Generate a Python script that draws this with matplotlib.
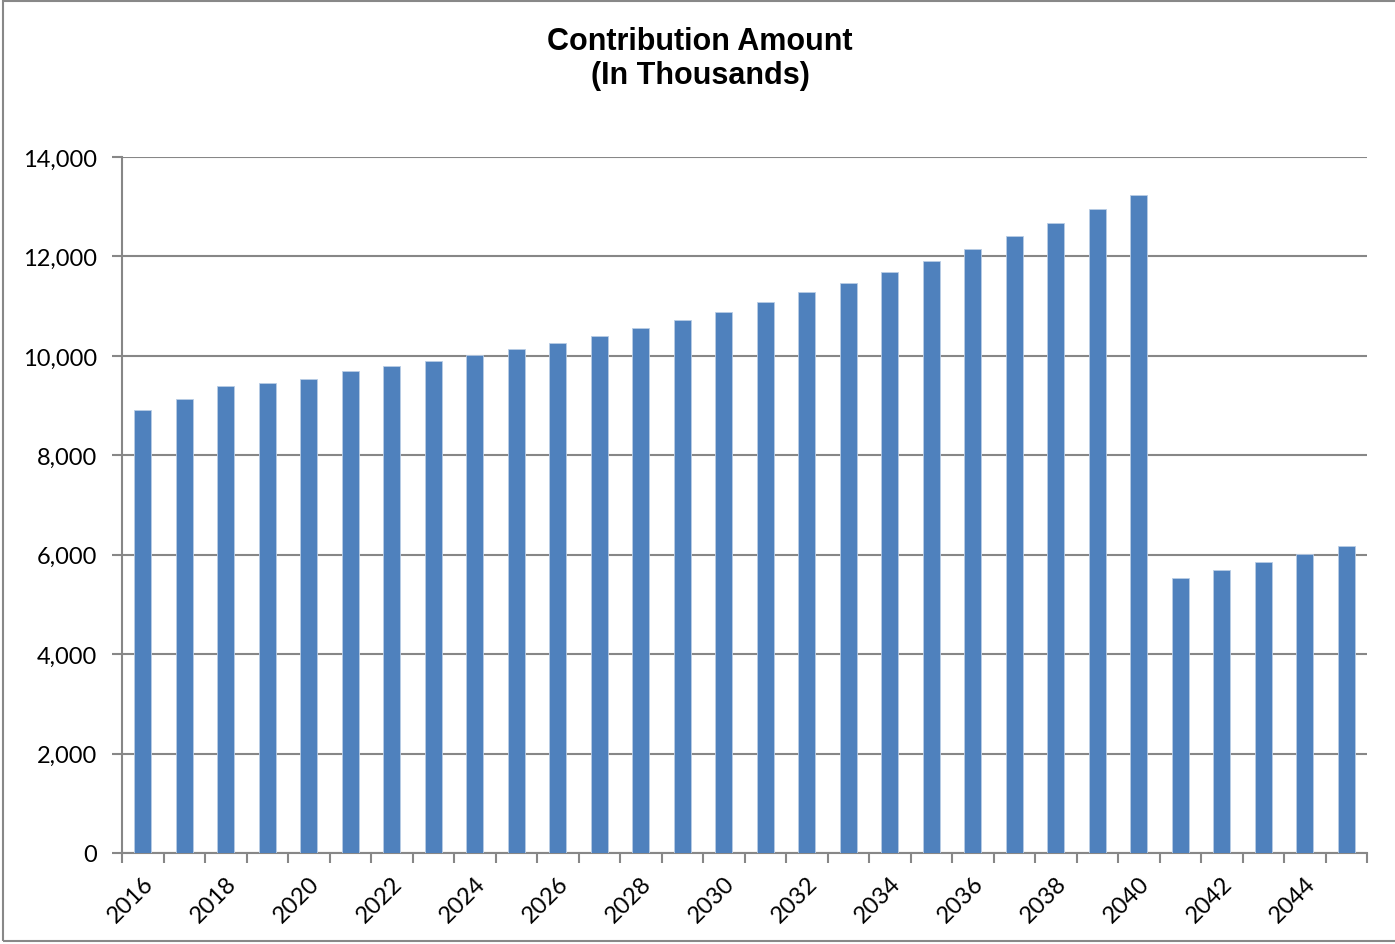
import matplotlib.pyplot as plt
import numpy as np
from matplotlib.patches import Rectangle
from matplotlib.ticker import FuncFormatter

years = list(range(2016, 2046))
contribution = [8910, 9130, 9390, 9450, 9530, 9690, 9790, 9900, 10020, 10140,
                10260, 10400, 10560, 10720, 10880, 11080, 11280, 11460, 11680, 11900,
                12150, 12410, 12670, 12950, 13230, 5530, 5690, 5850, 6010, 6170]

fig = plt.figure(figsize=(13.95, 9.45), dpi=100)
ax = fig.add_axes([122 / 1395, 91 / 945, 1245 / 1395, 696 / 945])

x = np.arange(len(years))
ax.bar(x, contribution, width=0.4, color="#4F81BD", edgecolor="#B9CDE5", linewidth=0.6, zorder=3)

ax.set_xlim(-0.5, len(years) - 0.5)
ax.set_ylim(0, 14000)
ax.set_yticks(np.arange(0, 14001, 2000))
ax.yaxis.set_major_formatter(FuncFormatter(lambda v, p: f"{int(v):,}"))
ax.grid(axis="y", color="#878787", linewidth=1.5, zorder=0)

# ticks sit between categories, labels on every other year
ax.set_xticks(np.arange(-0.5, len(years), 1.0))
ax.set_xticklabels([])
ax.set_xticks(x[::2], minor=True)
ax.set_xticklabels([str(y) for y in years[::2]], minor=True, rotation=45,
                   ha="right", rotation_mode="anchor", fontsize=17, family="Lato")
ax.tick_params(axis="x", which="major", length=7, width=1.5, color="#878787")
ax.tick_params(axis="x", which="minor", length=0, pad=14)
ax.tick_params(axis="y", length=7, width=1.5, color="#878787", labelsize=17, pad=11)
for lbl in ax.get_yticklabels():
    lbl.set_family("Lato")

for side in ["top", "right"]:
    ax.spines[side].set_visible(False)
for side in ["left", "bottom"]:
    ax.spines[side].set_color("#878787")
    ax.spines[side].set_linewidth(1.5)

fig.text(700 / 1395, 1 - 59 / 945, "Contribution Amount\n(In Thousands)", ha="center", va="center",
         fontsize=22, fontweight="bold", family="Liberation Sans", linespacing=1.15)

# chart border
fig.patches.append(Rectangle((3 / 1395, 3 / 945), 1.05, 1 - 5 / 945, transform=fig.transFigure,
                             fill=False, edgecolor="#888888", linewidth=1.5))

fig.savefig("out.png", dpi=100)
